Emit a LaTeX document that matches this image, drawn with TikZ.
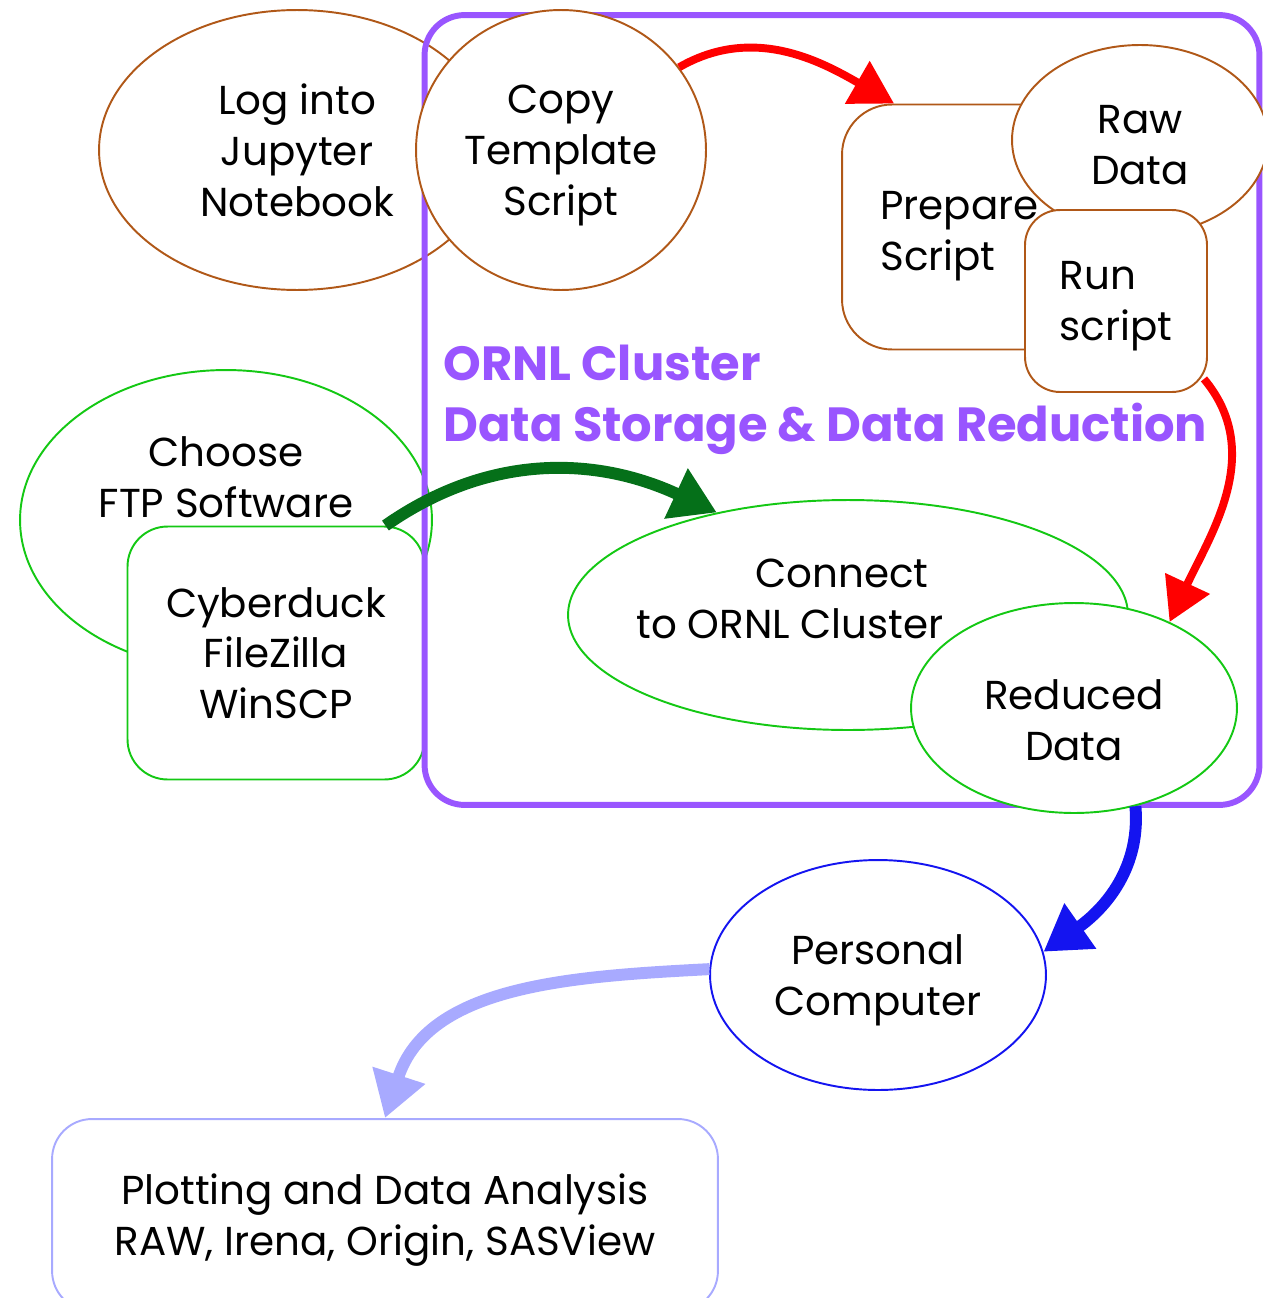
\documentclass[tikz,border=0pt]{standalone}
\usepackage{fontspec}
\setmainfont{Poppins}
\usetikzlibrary{shapes.geometric,arrows.meta,calc}

\definecolor{brun}{RGB}{176,88,24}
\definecolor{vert}{RGB}{20,200,20}
\definecolor{vertfonce}{RGB}{5,112,25}
\definecolor{violet}{RGB}{153,85,255}
\definecolor{bleu}{RGB}{20,20,240}
\definecolor{bleuclair}{RGB}{168,170,255}

\begin{document}
\begin{tikzpicture}[x=0.02cm,y=-0.02cm,
    txt/.style={font=\fontsize{23}{29}\selectfont, align=center, inner sep=0pt, text depth=0pt},
    ovale/.style={txt, ellipse, draw=#1, fill=white, line width=1.1pt},
    boite/.style={txt, rectangle, rounded corners=0.8cm, draw=#1, fill=white, line width=1.1pt},
    fleche/.style={line width=#1, -{Triangle[length=0.9cm,width=1.05cm]}}]
    \useasboundingbox (0,0) rectangle (1263,1298);

    % Connexion
    \node[ovale=brun, minimum width=7.92cm, minimum height=5.6cm] (log) at (297,150) {Log into\\Jupyter\\Notebook};
    \node[ovale=vert, minimum width=8.24cm, minimum height=6cm] (choose) at (226,520) {};
    \node[txt] (choose-lbl) at (226,477) {Choose\\FTP Software};
    \node[boite=vert, minimum width=5.94cm, minimum height=5.06cm] (cyber) at (276,653) {Cyberduck\\FileZilla\\WinSCP};

    % Cluster ORNL
    \node[rectangle, rounded corners=0.8cm, draw=violet, line width=3.4pt, minimum width=16.7cm, minimum height=15.8cm] (cluster) at (842,410) {};
    \node[ovale=brun, minimum width=5.8cm, minimum height=5.6cm] (copy) at (561,150) {Copy\\Template\\Script};
    \node[boite=brun, rounded corners=1cm, minimum width=5.16cm, minimum height=4.9cm] (prep) at (971,227) {};
    \node[txt, anchor=west, align=left] (prep-lbl) at (880,231) {Prepare\\Script};
    \node[ovale=brun, minimum width=5.12cm, minimum height=3.8cm] (raw) at (1140,140) {};
    \node[txt] (raw-lbl) at (1140,145) {Raw\\Data};
    \node[boite=brun, rounded corners=0.7cm, align=left, minimum width=3.64cm, minimum height=3.64cm] (run) at (1116,301) {Run\\script};
    \node[txt, anchor=west, align=left, text=violet, font=\fontsize{27.3}{35}\selectfont\bfseries] (titre) at (443,393) {ORNL Cluster\\Data Storage \& Data Reduction};
    \node[ovale=vert, minimum width=11.2cm, minimum height=4.6cm] (connect) at (848,615) {};
    \node[txt] (connect-lbl) at (790,599) {\hspace*{2.08cm}Connect\\to ORNL Cluster};
    \node[ovale=vert, minimum width=6.52cm, minimum height=4.2cm] (reduced) at (1074,708) {};
    \node[txt] (reduced-lbl) at (1074,720) {Reduced\\Data};

    % Poste personnel
    \node[ovale=bleu, minimum width=6.72cm, minimum height=4.6cm] (personal) at (878,975) {Personal\\Computer};
    \node[boite=bleuclair, minimum width=13.32cm, minimum height=3.84cm] (plot) at (385,1215) {Plotting and Data Analysis\\RAW, Irena, Origin, SASView};

    % Fleches
    \draw[fleche=4.5pt, red, -{Triangle[length=0.85cm,width=0.95cm]}] (copy.35) to[out=30, in=150] ($(prep.north west)+(53,0)$);
    \draw[fleche=4.5pt, red, -{Triangle[length=0.85cm,width=0.95cm]}] ($(run.south east)+(-4,-14)$) to[out=-50, in=65] (reduced.42);
    \draw[fleche=6.8pt, vertfonce] ($(cyber.north east)+(-40,0)$) to[out=35, in=155] (connect.142);
    \draw[fleche=6.8pt, bleu] (reduced.-58) to[out=-85, in=35] (personal.8);
    \draw[fleche=6.8pt, bleuclair] (personal.178) to[out=183, in=72] (plot.north);
\end{tikzpicture}
\end{document}
